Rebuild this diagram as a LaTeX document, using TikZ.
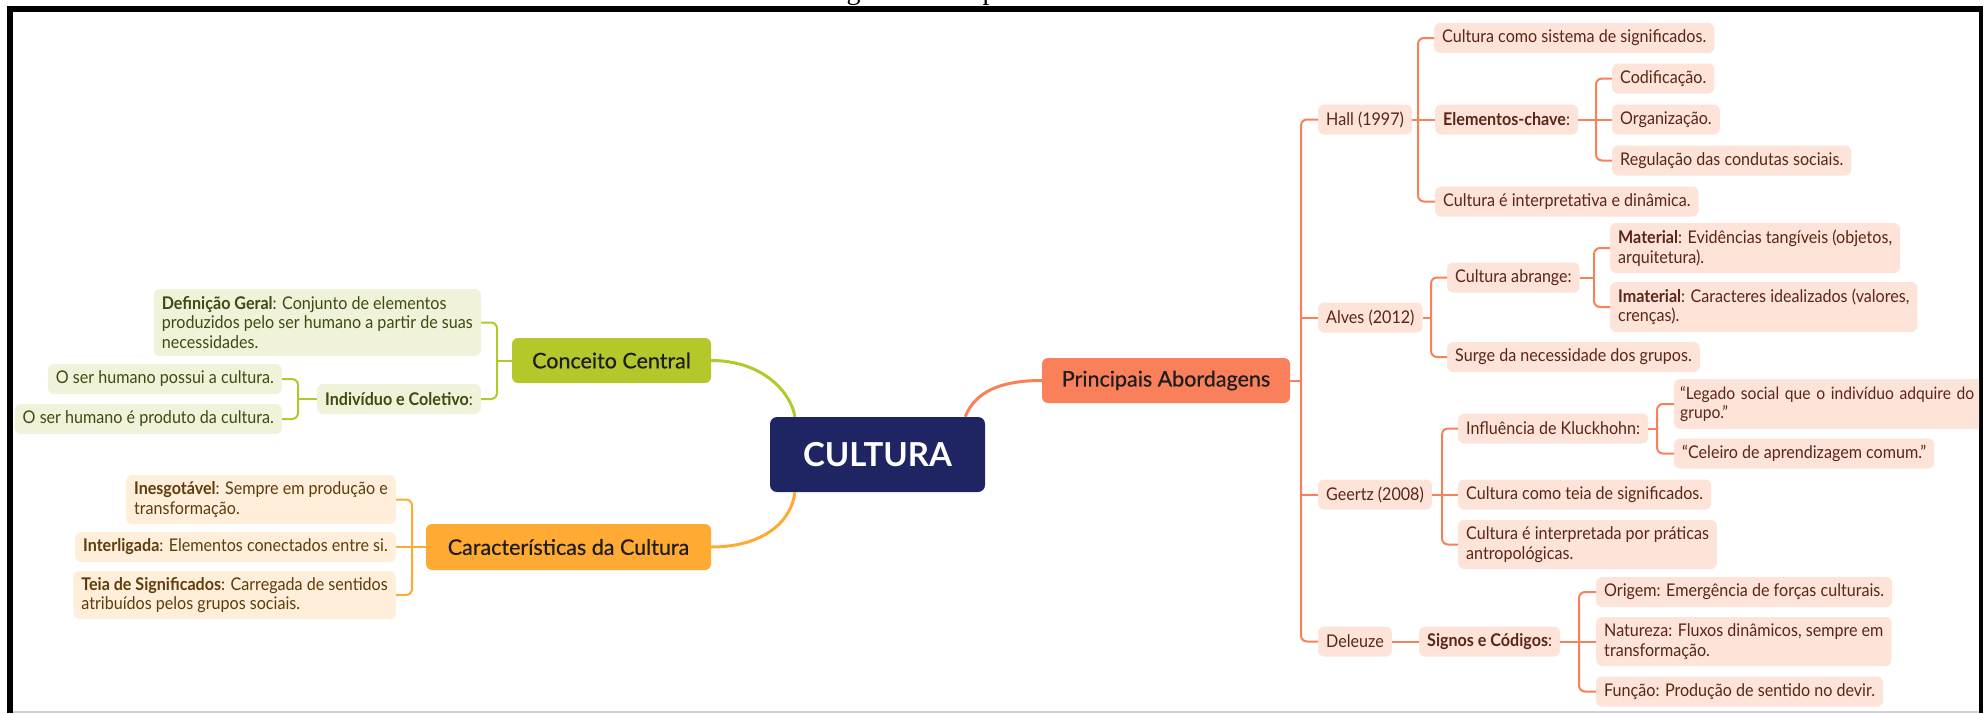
\documentclass[tikz,border=0pt]{standalone}
\usepackage{fontspec}
\setmainfont{Lato}
\newfontfamily\subfont[FakeStretch=0.92]{Lato}
\newfontfamily\topicfont[FakeBold=0.5]{Lato}
\newfontfamily\capfont{Liberation Serif}
\definecolor{navy}{HTML}{1F2563}
\definecolor{gmain}{HTML}{B4C72B}
\definecolor{gfill}{HTML}{F0F3D9}
\definecolor{gtext}{HTML}{3F4A12}
\definecolor{omain}{HTML}{FFAA33}
\definecolor{ofill}{HTML}{FFEFDA}
\definecolor{otext}{HTML}{5E3C0C}
\definecolor{smain}{HTML}{F9805A}
\definecolor{sfill}{HTML}{FEE3D9}
\definecolor{stext}{HTML}{5A2618}
\definecolor{ttext}{HTML}{1D1D1D}
\tikzset{
  box/.style={rounded corners=6pt, inner xsep=8pt, inner ysep=0pt, minimum height=30pt, align=left,
    font=\subfont\fontsize{17.5}{19.5}\selectfont},
  gbox/.style={box, anchor=east, fill=gfill, text=gtext},
  obox/.style={box, anchor=east, fill=ofill, text=otext},
  sbox/.style={box, anchor=west, fill=sfill, text=stext},
  topic/.style={rounded corners=6pt, inner sep=0pt, minimum height=45pt,
    font=\topicfont\fontsize{21.5}{24}\selectfont, text=ttext},
  gline/.style={draw=gmain, line width=2pt, rounded corners=6pt},
  oline/.style={draw=omain, line width=2pt, rounded corners=6pt},
  sline/.style={draw=smain, line width=2pt, rounded corners=6pt},
  mainline/.style={line width=3pt},
}
\begin{document}
\begin{tikzpicture}[x=1pt,y=-1pt]
\useasboundingbox (0,0) rectangle (1988,713);
\fill[white] (0,0) rectangle (1988,713);

% caption above the frame, mostly outside the page
\begin{scope}
  \clip (0,0) rectangle (1988,6);
  \node[anchor=base west, inner sep=0pt, font=\capfont\fontsize{28}{28}\selectfont] (caption) at (823,-1) {Figura 1 – Mapa conceitual};
\end{scope}

% frame
\fill[black] (7,6) rectangle (1983,12);
\fill[black] (7,6) rectangle (13,713);
\fill[black] (1979,6) rectangle (1983,713);
\draw[black!18, line width=1.5pt] (13,712) -- (1979,712);

\begin{scope}
\clip (13,12) rectangle (1979,711);

% central topic
\node[rounded corners=7pt, fill=navy, text=white, minimum width=215pt, minimum height=75pt,
  inner sep=0pt, font=\fontsize{33}{36}\selectfont\bfseries] (cultura) at (877.5,454.5) {CULTURA};

% main topics
\node[topic, fill=gmain, minimum width=199pt] (conceito) at (611.5,360.5) {Conceito Central};
\node[topic, fill=omain, minimum width=285pt, minimum height=46pt] (caract) at (568.5,547) {Características da Cultura};
\node[topic, fill=smain, minimum width=248pt] (principais) at (1166,380.5) {Principais Abordagens};

% curved links from the centre
\draw[gmain, mainline] (conceito.east) .. controls (765,360.5) and (792,395) .. ([xshift=25pt]cultura.north west);
\draw[omain, mainline] ([xshift=25pt]cultura.south west) .. controls (792,520) and (765,547) .. (caract.east);
\draw[smain, mainline] ([xshift=-20pt]cultura.north east) .. controls (975,392) and (1000,380.5) .. (principais.west);

% ---- Conceito Central
\node[gbox, minimum height=67pt] (def) at (481,322.5)
  {\textbf{Definição Geral}: Conjunto de elementos\\produzidos pelo ser humano a partir de suas\\necessidades.};
\node[gbox] (indiv) at (481,399) {\textbf{Indivíduo e Coletivo}:};
\node[gbox] (possui) at (282,379) {O ser humano possui a cultura.};
\node[gbox] (produto) at (282,419) {O ser humano é produto da cultura.};

\coordinate (conceitoT) at ([xshift=16pt]def.east);
\draw[gline] (def.east) -- (def.east -| conceitoT) -- (indiv.east -| conceitoT) -- (indiv.east);
\draw[gline] (conceito.west) -- (conceito.west -| conceitoT);
\coordinate (indivT) at ([xshift=16pt]possui.east);
\draw[gline] (possui.east) -- (possui.east -| indivT) -- (produto.east -| indivT) -- (produto.east);
\draw[gline] (indiv.west) -- (indiv.west -| indivT);

% ---- Caracteristicas da Cultura
\node[obox, minimum height=49pt] (inesg) at (396,499.5)
  {\textbf{Inesgotável}: Sempre em produção e\\transformação.};
\node[obox] (interl) at (396,547) {\textbf{Interligada}: Elementos conectados entre si.};
\node[obox, minimum height=48pt] (teia) at (396,595)
  {\textbf{Teia de Significados}: Carregada de sentidos\\atribuídos pelos grupos sociais.};

\coordinate (caractT) at ([xshift=16pt]inesg.east);
\draw[oline] (inesg.east) -- (inesg.east -| caractT) -- (teia.east -| caractT) -- (teia.east);
\draw[oline] (caract.west) -- (interl.east);

% ---- Principais Abordagens
\node[sbox] (hall) at (1318,119.5) {Hall (1997)};
\node[sbox] (alves) at (1318,317.5) {Alves (2012)};
\node[sbox] (geertz) at (1318,494.5) {Geertz (2008)};
\node[sbox] (deleuze) at (1318,641.5) {Deleuze};

\coordinate (mainT) at ([xshift=-17pt]hall.west);
\draw[sline] (hall.west) -- (hall.west -| mainT) -- (deleuze.west -| mainT) -- (deleuze.west);
\draw[sline] (principais.east) -- (principais.east -| mainT);
\draw[sline] (alves.west) -- (alves.west -| mainT);
\draw[sline] (geertz.west) -- (geertz.west -| mainT);

% Hall
\node[sbox] (sist) at (1434,38) {Cultura como sistema de significados.};
\node[sbox] (elem) at (1435,119.5) {\textbf{Elementos-chave}:};
\node[sbox] (dinam) at (1435,201.5) {Cultura é interpretativa e dinâmica.};
\node[sbox] (codif) at (1612,78.5) {Codificação.};
\node[sbox] (organ) at (1612,119.5) {Organização.};
\node[sbox] (regul) at (1612,160.5) {Regulação das condutas sociais.};

\coordinate (hallT) at ([xshift=-16pt]sist.west);
\draw[sline] (sist.west) -- (sist.west -| hallT) -- (dinam.west -| hallT) -- (dinam.west);
\draw[sline] (hall.east) -- (elem.west);
\coordinate (elemT) at ([xshift=-16pt]codif.west);
\draw[sline] (codif.west) -- (codif.west -| elemT) -- (regul.west -| elemT) -- (regul.west);
\draw[sline] (elem.east) -- (organ.west);

% Alves
\node[sbox] (abrange) at (1447,277.5) {Cultura abrange:};
\node[sbox] (surge) at (1447,357) {Surge da necessidade dos grupos.};
\node[sbox, minimum height=50pt] (material) at (1610,248)
  {\textbf{Material}: Evidências tangíveis (objetos,\\arquitetura).};
\node[sbox, minimum height=50pt] (imaterial) at (1610,307)
  {\textbf{Imaterial}: Caracteres idealizados (valores,\\crenças).};

\coordinate (alvesT) at ([xshift=-16pt]abrange.west);
\draw[sline] (abrange.west) -- (abrange.west -| alvesT) -- (surge.west -| alvesT) -- (surge.west);
\draw[sline] (alves.east) -- (alves.east -| alvesT);
\coordinate (abrT) at ([xshift=-16pt]material.west);
\draw[sline] (material.west) -- (material.west -| abrT) -- (imaterial.west -| abrT) -- (imaterial.west);
\draw[sline] (abrange.east) -- (abrange.east -| abrT);

% Geertz
\node[sbox] (influ) at (1458,428.5) {Influência de Kluckhohn:};
\node[sbox] (teiasig) at (1458,494.5) {Cultura como teia de significados.};
\node[sbox, minimum height=49pt] (interp) at (1458,544.5)
  {Cultura é interpretada por práticas\\antropológicas.};
\node[sbox, minimum height=50pt, inner xsep=6pt, text width=310pt,
  font=\subfont\fontsize{17}{19.5}\selectfont] (legado) at (1674,404)
  {“Legado social que o indivíduo adquire do\\grupo.”};
\node[sbox] (celeiro) at (1674,453.5) {“Celeiro de aprendizagem comum.”};

\coordinate (geertzT) at ([xshift=-16pt]influ.west);
\draw[sline] (influ.west) -- (influ.west -| geertzT) -- (interp.west -| geertzT) -- (interp.west);
\draw[sline] (geertz.east) -- (teiasig.west);
\coordinate (influT) at ([xshift=-17pt]legado.west);
\draw[sline] (legado.west) -- (legado.west -| influT) -- (celeiro.west -| influT) -- (celeiro.west);
\draw[sline] (influ.east) -- (influ.east -| influT);

% Deleuze
\node[sbox] (signos) at (1419,641.5) {\textbf{Signos e Códigos}:};
\node[sbox] (origem) at (1596,592) {Origem: Emergência de forças culturais.};
\node[sbox, minimum height=49pt] (natureza) at (1596,641.5)
  {Natureza: Fluxos dinâmicos, sempre em\\transformação.};
\node[sbox] (funcao) at (1596,691.5) {Função: Produção de sentido no devir.};

\draw[sline] (deleuze.east) -- (signos.west);
\coordinate (signosT) at ([xshift=-17pt]origem.west);
\draw[sline] (origem.west) -- (origem.west -| signosT) -- (funcao.west -| signosT) -- (funcao.west);
\draw[sline] (signos.east) -- (natureza.west);
\end{scope}
\end{tikzpicture}
\end{document}
